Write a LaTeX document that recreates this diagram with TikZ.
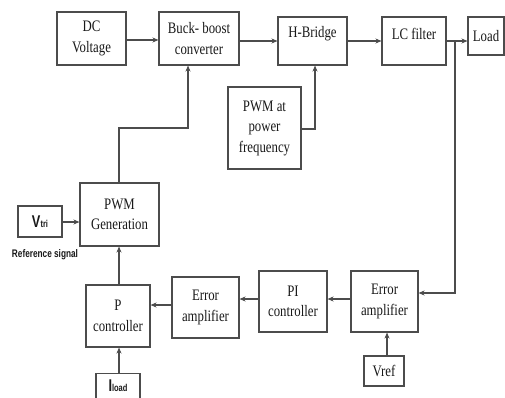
\documentclass[tikz,border=0pt]{standalone}
\usepackage{fontspec}
\setmainfont[FakeStretch=0.8]{Liberation Serif}
\newfontfamily\condsans[FakeStretch=0.75]{Liberation Sans}
\usetikzlibrary{arrows.meta}
\begin{document}
\begin{tikzpicture}[x=1pt,y=-1pt,
  blk/.style={draw=black!70,line width=1.1pt,fill=white,inner sep=1pt,align=center,
    font=\fontsize{16}{20.5}\selectfont,text=black!90},
  lbl/.style={text=black!90,font=\fontsize{16}{20.5}\selectfont},
  conn/.style={draw=black!70,line width=1.1pt},
  arr/.style={conn,-{Stealth[length=6pt,width=5pt]}}]
\useasboundingbox (0,0) rectangle (505,398);
\fill[white] (0,0) rectangle (505,398);
% top row
\node[blk,minimum width=69pt,minimum height=53pt] (dc) at (91.5,38.5) {DC\\Voltage};
\node[blk,minimum width=80pt,minimum height=53pt] (buck) at (199,38.5) {Buck- boost\\converter};
\node[blk,minimum width=69pt,minimum height=48pt] (hb) at (312.5,41) {};
\node[lbl] (hbt) at (312.5,34) {H-Bridge};
\node[blk,minimum width=64pt,minimum height=48pt] (lc) at (414,41) {};
\node[lbl] (lct) at (414,34) {LC filter};
\node[blk,minimum width=36pt,minimum height=38pt] (load) at (486,36) {Load};
% PWM at power frequency
\node[blk,minimum width=73pt,minimum height=82pt] (pwmpf) at (264.5,128) {PWM at\\power\\frequency};
% PWM generation
\node[blk,minimum width=79pt,minimum height=63pt] (pwmg) at (119.5,214.5) {PWM\\Generation};
\node[blk,minimum width=44pt,minimum height=31pt,font=\condsans\bfseries] (vtri) at (40,221.5)
  {{\fontsize{17}{17}\selectfont V}{\fontsize{10}{10}\selectfont tri}};
\node[font=\condsans\bfseries\fontsize{11}{12}\selectfont,text=black!90] (refsig) at (45,255) {Reference signal};
% bottom row
\node[blk,minimum width=64pt,minimum height=62pt] (pc) at (118,316) {P\\controller};
\node[blk,minimum width=67pt,minimum height=61pt] (ea1) at (205.5,307.5) {Error\\amplifier};
\node[blk,minimum width=68pt,minimum height=61pt] (pi) at (293,301.5) {PI\\controller};
\node[blk,minimum width=67pt,minimum height=61pt] (ea2) at (384.5,301.5) {Error\\amplifier};
\node[blk,minimum width=40pt,minimum height=30pt] (vref) at (384,371) {Vref};
\node[blk,minimum width=44pt,minimum height=38pt,anchor=north] (iload) at (118,373) {};
\node[font=\condsans\bfseries,text=black!90,anchor=base] (iloadt) at (118,391)
  {{\fontsize{17}{17}\selectfont I}{\fontsize{10}{10}\selectfont load}};
% coordinates
\coordinate (br) at (455,41);
\coordinate (fb) at (455,293);
\coordinate (up1) at (119,128);
\coordinate (up2) at (188,128);
\coordinate (pf1) at (315,129);
% connectors
\draw[arr] (dc.east |- 0,40) -- (buck.west |- 0,40);
\draw[arr] (buck.east |- hb.west) -- (hb.west);
\draw[arr] (hb.east) -- (lc.west);
\draw[arr] (lc.east) -- (load.west |- lc.east);
\draw[arr] (br) -- (fb) -- (ea2.east |- fb);
\draw[arr] (ea2.west |- 0,299) -- (pi.east |- 0,299);
\draw[arr] (pi.west |- 0,299) -- (ea1.east |- 0,299);
\draw[arr] (ea1.west |- 0,305) -- (pc.east |- 0,305);
\draw[arr] (vref.north -| 387,0) -- (ea2.south -| 387,0);
\draw[arr] (iload.north -| 119,0) -- (pc.south -| 119,0);
\draw[arr] (pc.north -| 119,0) -- (pwmg.south -| 119,0);
\draw[arr] (vtri.east |- 0,222) -- (pwmg.west |- 0,222);
\draw[arr] (pwmg.north -| up1) -- (up1) -- (up2) -- (buck.south -| up2);
\draw[arr] (pwmpf.east |- pf1) -- (pf1) -- (hb.south -| pf1);
\end{tikzpicture}
\end{document}
